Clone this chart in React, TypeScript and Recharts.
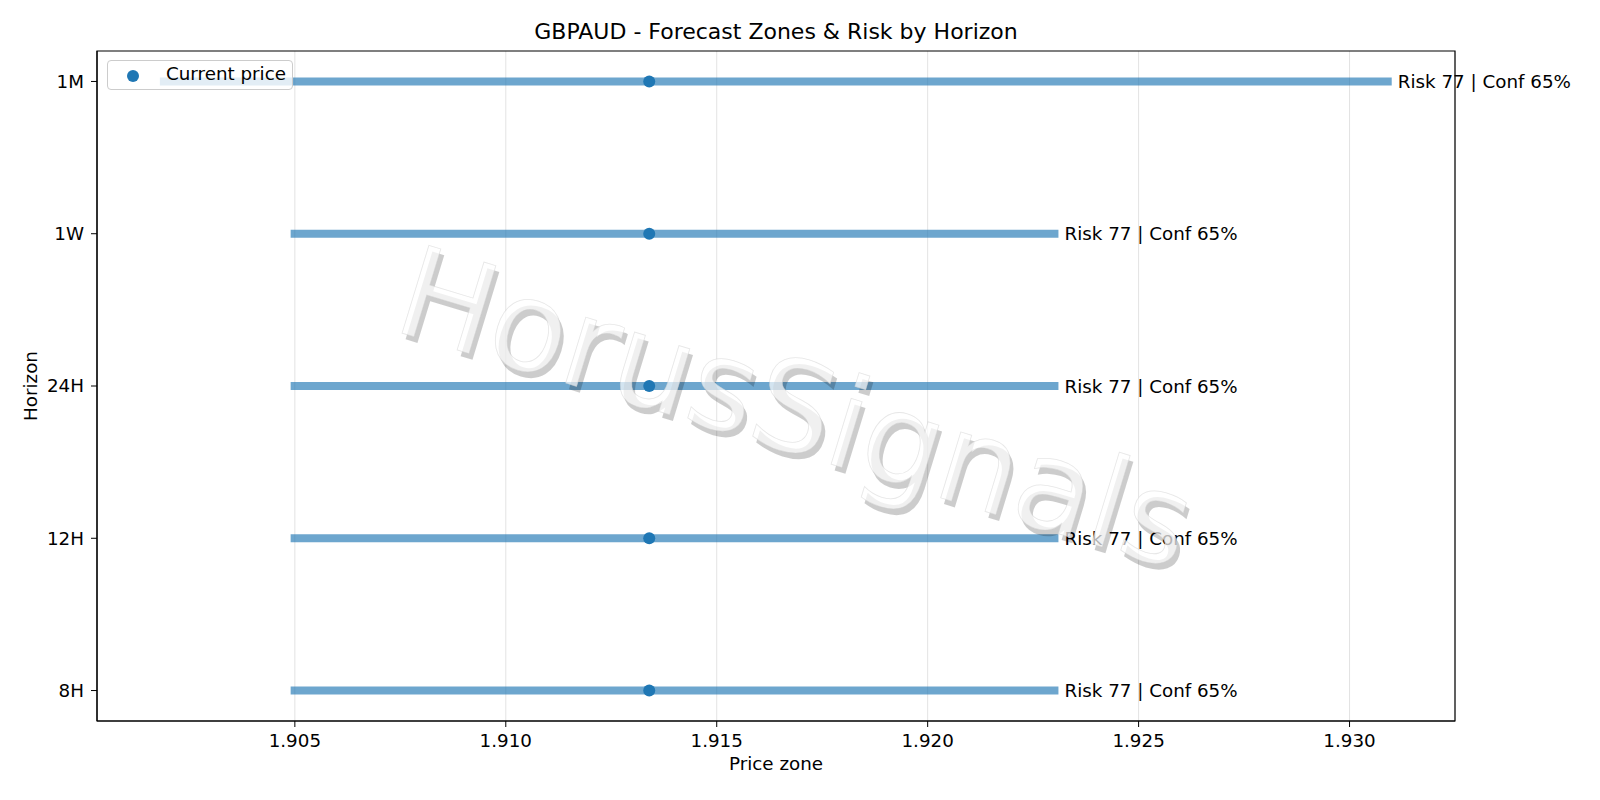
import {
  ComposedChart,
  Scatter,
  XAxis,
  YAxis,
  CartesianGrid,
  ReferenceArea,
  Legend,
} from 'recharts';

const horizons = ['8H', '12H', '24H', '1W', '1M'];
const zoneLow = [1.9049, 1.9049, 1.9049, 1.9049, 1.9018];
const zoneHigh = [1.9231, 1.9231, 1.9231, 1.9231, 1.931];
const currentPrice = [1.9134, 1.9134, 1.9134, 1.9134, 1.9134];
const riskScore = [77, 77, 77, 77, 77];
const confidence = [65, 65, 65, 65, 65];
const xTicks = [1.905, 1.91, 1.915, 1.92, 1.925, 1.93];

const xDomain: [number, number] = [1.90031, 1.9325];
const yDomain: [number, number] = [-0.2, 4.2];

const BLUE = '#1f77b4';
const FONT = '"DejaVu Sans", Verdana, sans-serif';

const pricePoints = horizons.map((h, i) => ({ x: currentPrice[i], y: i, name: h }));
const labelPoints = horizons.map((h, i) => ({
  x: zoneHigh[i],
  y: i,
  text: `Risk ${riskScore[i]} | Conf ${confidence[i]}%`,
}));

const LegendBox = () => (
  <div
    style={{
      width: 186,
      height: 30,
      border: '1px solid #cccccc',
      borderRadius: 4,
      background: 'rgba(255,255,255,0.8)',
      boxSizing: 'border-box',
      position: 'relative',
      fontFamily: FONT,
      fontSize: 18.3,
    }}
  >
    <span
      style={{
        position: 'absolute',
        left: 19,
        top: 9,
        width: 12,
        height: 12,
        borderRadius: 6,
        background: BLUE,
      }}
    />
    <span style={{ position: 'absolute', left: 58, top: 2, color: '#000' }}>Current price</span>
  </div>
);

export default function App() {
  return (
    <div style={{ position: 'relative', width: 1600, height: 800, margin: -8, background: '#fff', fontFamily: FONT }}>
      <div
        style={{
          position: 'absolute',
          left: 0,
          width: 1552,
          top: 19,
          textAlign: 'center',
          fontSize: 22,
          color: '#000',
        }}
      >
        GBPAUD - Forecast Zones &amp; Risk by Horizon
      </div>
      <ComposedChart width={1600} height={800} margin={{ top: 51, right: 145, bottom: 0, left: 0 }}>
        <CartesianGrid horizontal={false} stroke="#e3e3e3" />
        <XAxis
          type="number"
          dataKey="x"
          domain={xDomain}
          ticks={xTicks}
          tickFormatter={(v: number) => v.toFixed(3)}
          height={79}
          tickSize={6}
          tickMargin={7}
          tick={{ fill: '#000', fontSize: 18.3, fontFamily: FONT }}
          stroke="#000"
          label={({ viewBox }: any) => (
            <text
              x={viewBox.x + viewBox.width / 2}
              y={770}
              textAnchor="middle"
              fontSize={18.3}
              fontFamily={FONT}
              fill="#000"
            >
              Price zone
            </text>
          )}
        />
        <YAxis
          type="number"
          dataKey="y"
          domain={yDomain}
          ticks={[0, 1, 2, 3, 4]}
          tickFormatter={(v: number) => horizons[v] ?? ''}
          width={97}
          tickSize={6}
          tickMargin={7}
          tick={{ fill: '#000', fontSize: 18.3, fontFamily: FONT }}
          stroke="#000"
          label={({ viewBox }: any) => (
            <text
              x={37}
              y={viewBox.y + viewBox.height / 2}
              textAnchor="middle"
              fontSize={18.3}
              fontFamily={FONT}
              fill="#000"
              transform={`rotate(-90 37 ${viewBox.y + viewBox.height / 2})`}
            >
              Horizon
            </text>
          )}
        />
        <ReferenceArea
          x1={xDomain[0]}
          x2={xDomain[1]}
          y1={yDomain[0]}
          y2={yDomain[1]}
          fill="none"
          stroke="#000"
          strokeWidth={1.2}
          ifOverflow="visible"
        />
        {horizons.map((h, i) => (
          <Scatter
            key={h}
            name={`zone-${h}`}
            data={[
              { x: zoneLow[i], y: i },
              { x: zoneHigh[i], y: i },
            ]}
            line={{ stroke: BLUE, strokeWidth: 8, strokeOpacity: 0.65 }}
            lineType="joint"
            shape={() => <g />}
            legendType="none"
            isAnimationActive={false}
          />
        ))}
        <Scatter
          name="Current price"
          data={pricePoints}
          fill={BLUE}
          shape={(p: any) => <circle cx={p.cx} cy={p.cy} r={6} fill={BLUE} />}
          isAnimationActive={false}
        />
        <Scatter
          name="labels"
          data={labelPoints}
          legendType="none"
          shape={(p: any) => (
            <text
              x={p.cx + 6}
              y={p.cy}
              dominantBaseline="central"
              fontSize={18.3}
              fontFamily={FONT}
              fill="#000"
            >
              {p.payload.text}
            </text>
          )}
          isAnimationActive={false}
        />
        <Legend
          layout="vertical"
          align="center"
          verticalAlign="middle"
          content={() => <LegendBox />}
          wrapperStyle={{ position: 'absolute', left: 107, top: 60, width: 'auto', height: 'auto' }}
        />
      </ComposedChart>
      {/* watermark */}
      <svg
        width={1600}
        height={800}
        style={{ position: 'absolute', left: 0, top: 0, pointerEvents: 'none', overflow: 'visible' }}
      >
        <g transform="rotate(17 796 408)">
          <text
            x={801}
            y={413}
            textAnchor="middle"
            dominantBaseline="central"
            fontSize={126}
            fontFamily={FONT}
            fill="#000"
            fillOpacity={0.2}
          >
            HorusSignals
          </text>
          <text
            x={796}
            y={408}
            textAnchor="middle"
            dominantBaseline="central"
            fontSize={126}
            fontFamily={FONT}
            fill="#fff"
            fillOpacity={0.7}
            stroke="#d0d0d0"
            strokeWidth={0.8}
            strokeOpacity={0.5}
          >
            HorusSignals
          </text>
        </g>
      </svg>
    </div>
  );
}
